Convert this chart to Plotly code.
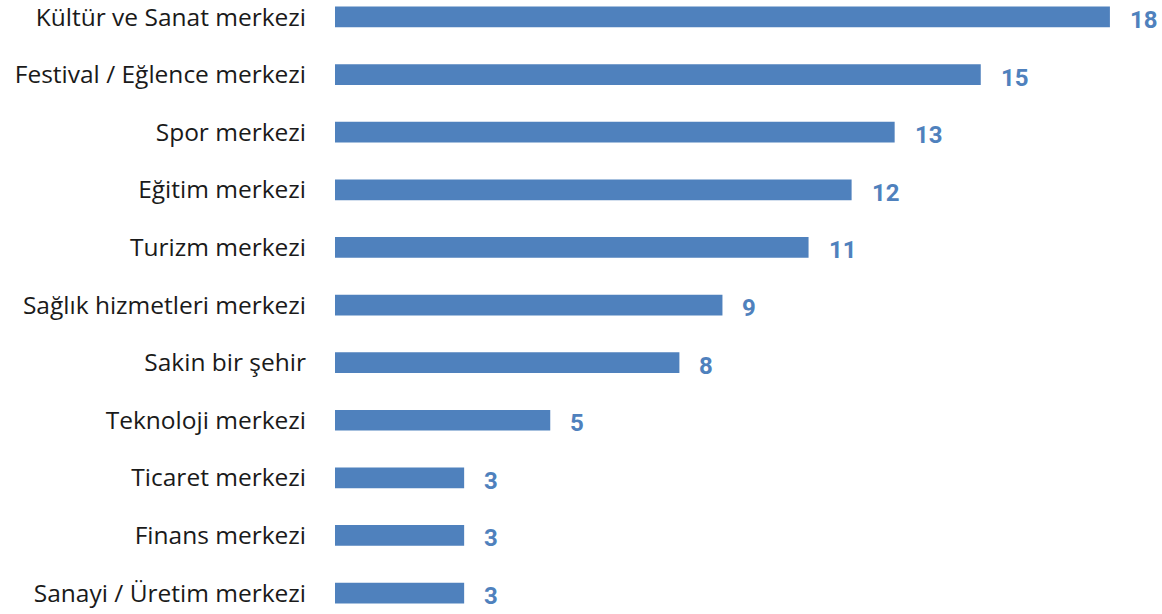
import plotly.graph_objects as go

categories = [
    "Kültür ve Sanat merkezi",
    "Festival / Eğlence merkezi",
    "Spor merkezi",
    "Eğitim merkezi",
    "Turizm merkezi",
    "Sağlık hizmetleri merkezi",
    "Sakin bir şehir",
    "Teknoloji merkezi",
    "Ticaret merkezi",
    "Finans merkezi",
    "Sanayi / Üretim merkezi",
]
values = [18, 15, 13, 12, 11, 9, 8, 5, 3, 3, 3]

BLUE = "#4f81bd"
LABEL_FONT = "Open Sans"

fig = go.Figure(
    go.Bar(
        x=values,
        y=categories,
        orientation="h",
        marker=dict(color=BLUE, line=dict(width=0)),
        width=0.36,
        hoverinfo="skip",
    )
)

for c, v in zip(categories, values):
    fig.add_annotation(
        x=v, y=c, text=f"<b>{v}</b>", showarrow=False,
        xanchor="left", yanchor="middle", xshift=18, yshift=-3,
        font=dict(family="Roboto", size=24, color=BLUE),
    )

fig.update_layout(
    width=1162, height=614,
    margin=dict(l=335, r=0, t=0, b=0),
    paper_bgcolor="white", plot_bgcolor="white",
    showlegend=False,
    font=dict(family=LABEL_FONT, size=22, color="#1a1a1a"),
    xaxis=dict(range=[0, 19.21], visible=False, showgrid=False, zeroline=False),
    yaxis=dict(
        type="category", range=[10.363, -0.2595], showgrid=False, zeroline=False,
        showline=False, ticks="", ticklabelstandoff=28,
        tickfont=dict(family=LABEL_FONT, size=24.5, color="#1a1a1a"),
    ),
)

fig.write_html(
    "out.html",
    config={"displayModeBar": False, "staticPlot": True},
    post_script="document.body.style.margin='0';document.body.style.overflow='hidden';",
)
